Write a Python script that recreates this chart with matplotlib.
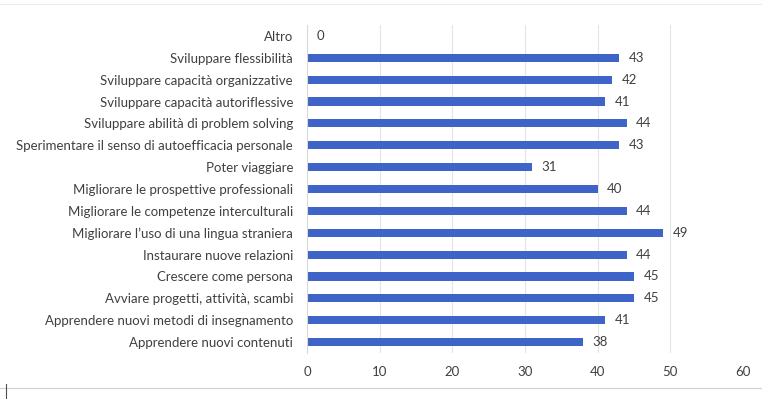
from matplotlib import pyplot as plt
from matplotlib.lines import Line2D

categories = [
    'Altro',
    'Sviluppare flessibilità',
    'Sviluppare capacità organizzative',
    'Sviluppare capacità autoriflessive',
    'Sviluppare abilità di problem solving',
    'Sperimentare il senso di autoefficacia personale',
    'Poter viaggiare',
    'Migliorare le prospettive professionali',
    'Migliorare le competenze interculturali',
    'Migliorare l’uso di una lingua straniera',
    'Instaurare nuove relazioni',
    'Crescere come persona',
    'Avviare progetti, attività, scambi',
    'Apprendere nuovi metodi di insegnamento',
    'Apprendere nuovi contenuti',
]
values = [0, 43, 42, 41, 44, 43, 31, 40, 44, 49, 44, 45, 45, 41, 38]
xticks = [0, 10, 20, 30, 40, 50, 60]

BLUE = '#3d64c6'
TEXT = '#404040'
GRID = '#e4e4e4'

plt.rcParams['font.family'] = ['Lato', 'DejaVu Sans']

fig = plt.figure(figsize=(7.62, 3.99), dpi=100)
ax = fig.add_axes([307 / 762, 1 - 353 / 399, 436 / 762, 328 / 399])

pos = list(range(len(categories)))
ax.barh(pos, values, height=0.37, color=BLUE, zorder=2)
for p, v in zip(pos, values):
    ax.text(v + 1.3, p, str(v), va='center', ha='left', fontsize=9.5,
            color=TEXT, zorder=3)

ax.set_ylim(len(categories) - 0.5, -0.5)
ax.set_xlim(0, 60)
ax.set_yticks(pos)
ax.set_yticklabels(categories, fontsize=9.5, color=TEXT)
ax.set_xticks(xticks)
ax.set_xticklabels([str(t) for t in xticks], fontsize=9.5, color=TEXT)
ax.tick_params(axis='both', length=0)
ax.tick_params(axis='y', pad=10)
ax.tick_params(axis='x', pad=9)
ax.xaxis.grid(True, color=GRID, linewidth=0.8, zorder=0)
for s in ['top', 'right', 'bottom']:
    ax.spines[s].set_visible(False)
ax.spines['left'].set_color('#d9d9d9')
ax.spines['left'].set_linewidth(0.8)

# outer chart frame
fig.add_artist(Line2D([0.0, 1.0], [1 - 388 / 399, 1 - 388 / 399],
                      color='#cfcfcf', linewidth=0.8))
fig.add_artist(Line2D([0.0, 1.0], [1 - 4 / 399, 1 - 4 / 399],
                      color='#ececec', linewidth=0.8))
fig.add_artist(Line2D([6 / 762, 6 / 762], [0.0, 1 - 384 / 399],
                      color='#505050', linewidth=0.8))

fig.savefig('out.png', dpi=100)
